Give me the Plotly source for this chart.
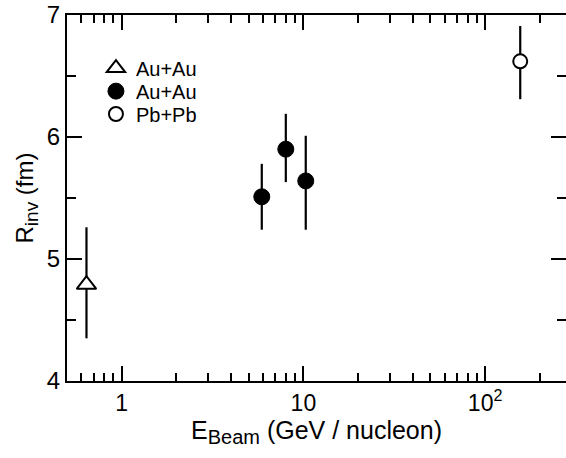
import math
import plotly.graph_objects as go

# Data
tri_x = [0.64]
tri_y = [4.79]
tri_err_plus = [0.47]
tri_err_minus = [0.44]

fill_x = [5.9, 8.0, 10.3]
fill_y = [5.51, 5.90, 5.64]
fill_err_plus = [0.27, 0.29, 0.37]
fill_err_minus = [0.27, 0.27, 0.40]

open_x = [156.0]
open_y = [6.62]
open_err_plus = [0.29]
open_err_minus = [0.31]

legend_names = ["Au+Au", "Au+Au", "Pb+Pb"]

x_tickvals = [1, 10, 100]
x_ticktext = ["1", "10", "10<sup>2</sup>"]
x_minor = [0.6, 0.7, 0.8, 0.9, 2, 3, 4, 5, 6, 7, 8, 9,
           20, 30, 40, 50, 60, 70, 80, 90, 200]
y_tickvals = [4, 5, 6, 7]
y_minor = [4.5, 5.5, 6.5]

FONT = "Liberation Sans, Arial, Helvetica, sans-serif"


def eb(plus, minus):
    return dict(type="data", symmetric=False, array=plus, arrayminus=minus,
                color="black", thickness=2.2, width=0)


fig = go.Figure()
fig.add_trace(go.Scatter(
    x=tri_x, y=tri_y, mode="markers", name=legend_names[0], legend="legend",
    marker=dict(symbol="triangle-up", size=17, color="white",
                line=dict(color="black", width=2)),
    error_y=eb(tri_err_plus, tri_err_minus)))
fig.add_trace(go.Scatter(
    x=fill_x, y=fill_y, mode="markers", name=legend_names[1], legend="legend2",
    marker=dict(symbol="circle", size=16, color="black",
                line=dict(color="black", width=1)),
    error_y=eb(fill_err_plus, fill_err_minus)))
fig.add_trace(go.Scatter(
    x=open_x, y=open_y, mode="markers", name=legend_names[2], legend="legend3",
    marker=dict(symbol="circle", size=14, color="white",
                line=dict(color="black", width=2)),
    error_y=eb(open_err_plus, open_err_minus)))

# invisible trace to carry right-side y ticks (no spine line)
fig.add_trace(go.Scatter(x=[None], y=[None], yaxis="y2", showlegend=False,
                         hoverinfo="skip"))

x_range = [math.log10(0.5), 2.445]

legend_rows = [0.855, 0.792, 0.7295]


def leg(yv):
    return dict(x=0.058, y=yv, xanchor="left", yanchor="middle",
                bgcolor="rgba(0,0,0,0)", font=dict(size=20),
                itemsizing="trace")


fig.update_layout(
    width=566, height=458,
    margin=dict(l=67, r=0, t=15, b=77),
    paper_bgcolor="white", plot_bgcolor="white",
    font=dict(family=FONT, color="black", size=18),
    showlegend=True,
    legend=leg(legend_rows[0]),
    legend2=leg(legend_rows[1]),
    legend3=leg(legend_rows[2]),
    xaxis=dict(
        type="log", range=x_range, automargin=False,
        showline=True, linecolor="black", linewidth=2, mirror="ticks",
        ticks="inside", ticklen=15, tickwidth=2, tickcolor="black",
        tickmode="array", tickvals=x_tickvals, ticktext=x_ticktext,
        tickfont=dict(size=23), ticklabeloverflow="allow",
        minor=dict(ticks="inside", ticklen=8, tickwidth=2, tickcolor="black",
                   tickmode="array", tickvals=x_minor, showgrid=False),
        showgrid=False, zeroline=False,
        title=dict(text="E<sub><span style='font-size:20px'>Beam</span></sub> (GeV / nucleon)",
                   font=dict(size=25), standoff=4),
    ),
    yaxis=dict(
        range=[4, 7], automargin=False,
        showline=True, linecolor="black", linewidth=2, mirror=False,
        ticks="inside", ticklen=15, tickwidth=2, tickcolor="black",
        tickmode="array", tickvals=y_tickvals,
        tickfont=dict(size=24), ticklabeloverflow="allow",
        minor=dict(ticks="inside", ticklen=9, tickwidth=2, tickcolor="black",
                   tickmode="array", tickvals=y_minor, showgrid=False),
        showgrid=False, zeroline=False,
        title=dict(text="R<sub><span style='font-size:19px'>inv</span></sub> (fm)",
                   font=dict(size=24), standoff=6),
    ),
    yaxis2=dict(
        overlaying="y", side="right", range=[4, 7], showline=False,
        automargin=False,
        ticks="inside", ticklen=15, tickwidth=2, tickcolor="black",
        tickmode="array", tickvals=y_tickvals, showticklabels=False,
        minor=dict(ticks="inside", ticklen=9, tickwidth=2, tickcolor="black",
                   tickmode="array", tickvals=y_minor, showgrid=False),
        showgrid=False, zeroline=False,
    ),
)

# remove the default 8px page margin so the figure sits at the window origin
fig.write_html("out.html",
               config={"displayModeBar": False},
               post_script="document.body.style.margin='0';"
                           "document.body.style.overflow='hidden';")
